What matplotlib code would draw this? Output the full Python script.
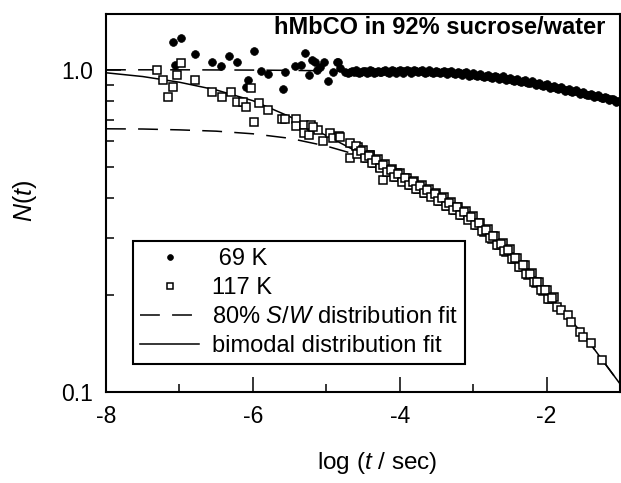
import numpy as np
import matplotlib
matplotlib.use("Agg")
import matplotlib.pyplot as plt
from matplotlib.ticker import NullFormatter, FixedLocator

plt.rcParams['font.family'] = ['Liberation Sans', 'DejaVu Sans']
plt.rcParams['mathtext.fontset'] = 'custom'
plt.rcParams['mathtext.rm'] = 'Liberation Sans'
plt.rcParams['mathtext.it'] = 'Liberation Sans:italic'
plt.rcParams['axes.unicode_minus'] = False

# 69 K data, log(t/sec) vs N(t): scattered early points
x69_early = [-7.09, -6.98, -6.79, -7.06, -6.56, -6.43, -6.32, -6.22, -5.99, -6.06,
             -6.09, -5.89, -5.79, -5.59, -5.56, -5.43, -5.29, -5.34, -5.20, -5.23,
             -5.13, -5.03, -4.98, -4.84, -5.16, -4.86, -4.82, -4.91, -5.09, -4.75]
n69_early = [1.224, 1.254, 1.121, 1.036, 1.054, 1.029, 1.100, 1.054, 1.140, 0.931,
             0.884, 0.995, 0.972, 0.871, 0.981, 1.024, 1.127, 1.036, 1.074, 0.965,
             1.000, 1.054, 0.920, 1.061, 1.059, 1.059, 1.014, 0.986, 1.022, 0.986]

# 69 K data, dense part
x69_dense = [-4.70, -4.65, -4.60, -4.55, -4.50, -4.45, -4.40, -4.35, -4.30, -4.25,
             -4.20, -4.15, -4.10, -4.05, -4.00, -3.95, -3.90, -3.85, -3.80, -3.75,
             -3.70, -3.65, -3.60, -3.55, -3.50, -3.45, -3.40, -3.35, -3.30, -3.25,
             -3.20, -3.15, -3.10, -3.05, -3.00, -2.95, -2.90, -2.85, -2.80, -2.75,
             -2.70, -2.65, -2.60, -2.55, -2.50, -2.45, -2.40, -2.35, -2.30, -2.25,
             -2.20, -2.15, -2.10, -2.05, -2.00, -1.95, -1.90, -1.85, -1.80, -1.75,
             -1.70, -1.65, -1.60, -1.55, -1.50, -1.45, -1.40, -1.35, -1.30, -1.25,
             -1.20, -1.15, -1.10, -1.05, -1.00]
n69_dense = [0.975, 0.991, 0.996, 0.978, 0.995, 0.980, 0.997, 0.978, 0.994, 0.981,
             0.999, 0.979, 0.997, 0.980, 1.000, 0.979, 0.998, 0.978, 0.999, 0.981,
             0.997, 0.977, 0.996, 0.976, 0.994, 0.974, 0.993, 0.973, 0.990, 0.970,
             0.987, 0.967, 0.981, 0.960, 0.975, 0.955, 0.970, 0.949, 0.965, 0.945,
             0.960, 0.939, 0.954, 0.932, 0.945, 0.925, 0.937, 0.917, 0.929, 0.908,
             0.920, 0.899, 0.911, 0.890, 0.902, 0.881, 0.892, 0.871, 0.882, 0.861,
             0.872, 0.852, 0.863, 0.843, 0.853, 0.833, 0.843, 0.824, 0.834, 0.815,
             0.824, 0.806, 0.814, 0.797, 0.799]
x69_mid = [-4.675, -4.625, -4.575, -4.525, -4.475, -4.425, -4.375, -4.325, -4.275, -4.225,
           -4.175, -4.125, -4.075, -4.025, -3.975, -3.925, -3.875, -3.825, -3.775, -3.725,
           -3.675, -3.625, -3.575, -3.525, -3.475, -3.425, -3.375, -3.325, -3.275, -3.225,
           -3.175, -3.125, -3.075, -3.025, -2.975, -2.925, -2.875, -2.825, -2.775, -2.725,
           -2.675, -2.625, -2.575, -2.525, -2.475, -2.425, -2.375, -2.325, -2.275, -2.225,
           -2.175, -2.125, -2.075, -2.025, -1.975, -1.925, -1.875, -1.825, -1.775, -1.725,
           -1.675, -1.625, -1.575, -1.525, -1.475, -1.425, -1.375, -1.325, -1.275, -1.225,
           -1.175, -1.125, -1.075, -1.025]
n69_mid = [0.986, 0.987, 0.986, 0.987, 0.988, 0.987, 0.988, 0.986, 0.987, 0.989,
           0.987, 0.988, 0.989, 0.990, 0.988, 0.989, 0.988, 0.990, 0.989, 0.988,
           0.987, 0.986, 0.985, 0.985, 0.983, 0.983, 0.982, 0.981, 0.979, 0.978,
           0.976, 0.974, 0.971, 0.967, 0.965, 0.962, 0.958, 0.956, 0.953, 0.950,
           0.947, 0.943, 0.940, 0.936, 0.932, 0.928, 0.924, 0.920, 0.916, 0.912,
           0.908, 0.903, 0.899, 0.895, 0.890, 0.886, 0.881, 0.876, 0.872, 0.867,
           0.862, 0.857, 0.853, 0.848, 0.843, 0.838, 0.834, 0.829, 0.824, 0.819,
           0.815, 0.810, 0.805, 0.800]

# 117 K data: scattered early points
x117_early = [-7.30, -7.22, -7.09, -7.15, -7.03, -6.98, -6.79, -6.56, -6.42, -6.30,
              -6.22, -6.14, -6.09, -6.02, -5.99, -5.91, -5.79, -5.60, -5.56, -5.41,
              -5.41, -5.31, -5.31, -5.21, -5.23, -5.11, -5.05, -4.95, -4.91, -4.83,
              -5.18, -4.82, -4.68, -4.68, -4.57, -4.41, -4.27, -4.23, -4.14, -4.04]
n117_early = [1.000, 0.931, 0.887, 0.826, 0.965, 1.049, 0.931, 0.856, 0.823, 0.856,
              0.792, 0.797, 0.766, 0.877, 0.691, 0.788, 0.751, 0.703, 0.703, 0.703,
              0.667, 0.675, 0.636, 0.675, 0.628, 0.651, 0.603, 0.636, 0.613, 0.621,
              0.665, 0.619, 0.593, 0.533, 0.577, 0.545, 0.500, 0.455, 0.489, 0.479]

# 117 K data: dense part and the sparse tail
x117_dense = [-4.60, -4.55, -4.50, -4.45, -4.40, -4.35, -4.30, -4.25, -4.20, -4.15,
              -4.10, -4.05, -4.00, -3.95, -3.90, -3.85, -3.80, -3.75, -3.70, -3.65,
              -3.60, -3.55, -3.50, -3.45, -3.40, -3.35, -3.30, -3.25, -3.20, -3.15,
              -3.10, -3.05, -3.00, -2.95, -2.90, -2.85, -2.80, -2.75, -2.70, -2.65,
              -2.60, -2.55, -2.50, -2.45, -2.40, -2.35, -2.30, -2.25, -2.20, -2.15,
              -2.10, -2.05, -2.00, -1.95, -1.90,
              -1.86, -1.80, -1.71, -1.67, -1.55, -1.51, -1.40, -1.24]
n117_dense = [0.579, 0.550, 0.564, 0.533, 0.545, 0.515, 0.527, 0.498, 0.509, 0.482,
              0.493, 0.466, 0.477, 0.452, 0.463, 0.439, 0.451, 0.427, 0.439, 0.416,
              0.426, 0.405, 0.415, 0.392, 0.402, 0.379, 0.388, 0.367, 0.376, 0.355,
              0.364, 0.344, 0.352, 0.330, 0.335, 0.314, 0.320, 0.299, 0.304, 0.286,
              0.290, 0.272, 0.277, 0.258, 0.261, 0.244, 0.247, 0.230, 0.234, 0.218,
              0.220, 0.206, 0.208, 0.194, 0.197,
              0.184, 0.180, 0.173, 0.165, 0.153, 0.148, 0.142, 0.126]
x117_mid = [-4.575, -4.525, -4.475, -4.425, -4.375, -4.325, -4.275, -4.225, -4.175, -4.125,
            -4.075, -4.025, -3.975, -3.925, -3.875, -3.825, -3.775, -3.725, -3.675, -3.625,
            -3.575, -3.525, -3.475, -3.425, -3.375, -3.325, -3.275, -3.225, -3.175, -3.125,
            -3.075, -3.025, -2.975, -2.925, -2.875, -2.825, -2.775, -2.725, -2.675, -2.625,
            -2.575, -2.525, -2.475, -2.425, -2.375, -2.325, -2.275, -2.225, -2.175, -2.125,
            -2.075, -2.025, -1.975, -1.925]
n117_mid = [0.547, 0.560, 0.532, 0.542, 0.514, 0.524, 0.497, 0.507, 0.481, 0.490,
            0.465, 0.474, 0.450, 0.460, 0.438, 0.447, 0.426, 0.435, 0.414, 0.423,
            0.403, 0.412, 0.391, 0.399, 0.379, 0.386, 0.367, 0.374, 0.354, 0.361,
            0.343, 0.349, 0.331, 0.334, 0.315, 0.319, 0.300, 0.304, 0.286, 0.289,
            0.273, 0.276, 0.259, 0.261, 0.245, 0.247, 0.232, 0.233, 0.219, 0.220,
            0.207, 0.208, 0.195, 0.196]

# fits
x_fit = [-8.0, -7.5, -7.0, -6.5, -6.0, -5.5, -5.0, -4.5, -4.0, -3.5, -3.0, -2.5,
         -2.0, -1.5, -1.0]
n69_fit = [1.000, 1.000, 1.000, 0.999, 0.998, 0.996, 0.993, 0.989, 0.990, 0.986,
           0.969, 0.938, 0.894, 0.846, 0.796]
sw80_fit = [0.656, 0.655, 0.651, 0.645, 0.633, 0.613, 0.580, 0.538, 0.463, 0.403,
            0.343, 0.270, 0.203, 0.151, 0.106]
bimodal_fit = [0.979, 0.953, 0.915, 0.866, 0.802, 0.716, 0.625, 0.545, 0.465, 0.403,
               0.343, 0.270, 0.203, 0.151, 0.106]

x_major = [-8, -6, -4, -2]
x_minor = [-7, -5, -3]
y_major = [0.1, 1.0]
y_major_labels = ['0.1', '1.0']

fig = plt.figure(figsize=(6.21, 4.83), dpi=100)
ax = fig.add_axes([0.1707, 0.1884, 0.8277, 0.7826])

dash = (13, 8)
ax.plot(x_fit, n69_fit, color='black', lw=1.1, dashes=dash, zorder=1)
l_sw, = ax.plot(x_fit, sw80_fit, color='black', lw=1.1, dashes=dash, zorder=1)
l_bi, = ax.plot(x_fit, bimodal_fit, color='black', lw=1.1, zorder=1)

x69 = x69_early + x69_dense + x69_mid
n69 = n69_early + n69_dense + n69_mid
p69, = ax.plot(x69, n69, 'o', ms=5.6, mfc='black', mec='black', mew=0.5, zorder=2)
x117 = x117_early + x117_dense + x117_mid
n117 = n117_early + n117_dense + n117_mid
p117, = ax.plot(x117, n117, 's', ms=5.8, mfc='white', mec='black', mew=1.1, zorder=3)

ax.set_yscale('log')
ax.set_xlim(-8, -1)
ax.set_ylim(0.1, 1.49)
ax.xaxis.set_major_locator(FixedLocator(x_major))
ax.xaxis.set_minor_locator(FixedLocator(x_minor))
ax.set_xticklabels([str(v) for v in x_major])
ax.yaxis.set_major_locator(FixedLocator(y_major))
ax.set_yticklabels(y_major_labels)
ax.yaxis.set_minor_formatter(NullFormatter())

ax.tick_params(which='both', direction='in', top=False, right=False,
               labelsize=16.5, pad=9.5, width=1.1)
ax.tick_params(which='major', length=11)
ax.tick_params(which='minor', length=6)
for s in ax.spines.values():
    s.set_linewidth(1.5)

ax.text(0.971, 0.963, 'hMbCO in 92% sucrose/water', transform=ax.transAxes,
        ha='right', va='center', fontsize=17, fontweight='bold')

fig.text(25 / 621, 1 - 201 / 483, '$N$($t$)', rotation=90, ha='center', va='center',
         fontsize=18)
fig.text(377 / 621, 1 - 463 / 483, 'log ($t$ / sec)', ha='center', va='center',
         fontsize=17.5)

leg = ax.legend([p69, p117, l_sw, l_bi],
                [' 69 K', '117 K', '80% $S/W$ distribution fit', 'bimodal distribution fit'],
                loc='upper left', bbox_to_anchor=(0.0525, 0.3995), borderaxespad=0,
                fontsize=17, frameon=True, fancybox=False, framealpha=1,
                edgecolor='black', handlelength=2.5, handletextpad=0.55,
                labelspacing=0.3, borderpad=0.3, markerscale=0.75)
leg.get_frame().set_linewidth(1.5)

fig.savefig('out.png', dpi=100)
